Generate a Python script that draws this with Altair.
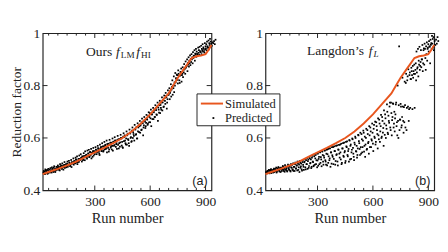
import altair as alt
import pandas as pd

# ---------------- data ----------------
sim_runs = [18, 50, 100, 150, 200, 250, 300, 350, 400, 450, 500, 550, 600, 650, 700,
            725, 750, 775, 800, 825, 850, 875, 900, 915, 932]
sim_vals = [0.462, 0.47, 0.482, 0.495, 0.51, 0.528, 0.545, 0.562, 0.58, 0.60, 0.625, 0.655,
            0.69, 0.73, 0.77, 0.80, 0.83, 0.855, 0.88, 0.905, 0.912, 0.915, 0.92, 0.935, 0.955]

# predicted values (ours), runs 22, 26, ..., 954 -> first set; runs 24, 28, ... -> second set
pred_ours_1 = [
    0.468, 0.472, 0.462, 0.475, 0.47, 0.478, 0.466, 0.474, 0.48, 0.471,
    0.477, 0.468, 0.482, 0.473, 0.486, 0.475, 0.47, 0.483, 0.478, 0.489,
    0.48, 0.491, 0.476, 0.487, 0.495, 0.482, 0.49, 0.479, 0.497, 0.486,
    0.494, 0.488, 0.502, 0.49, 0.498, 0.506, 0.492, 0.5, 0.489, 0.504,
    0.507, 0.498, 0.512, 0.503, 0.518, 0.506, 0.5, 0.514, 0.509, 0.52,
    0.516, 0.524, 0.51, 0.528, 0.519, 0.532, 0.515, 0.526, 0.536, 0.521,
    0.53, 0.541, 0.527, 0.546, 0.535, 0.522, 0.543, 0.55, 0.533, 0.548,
    0.545, 0.556, 0.538, 0.552, 0.561, 0.547, 0.535, 0.558, 0.566, 0.55,
    0.56, 0.548, 0.568, 0.557, 0.574, 0.562, 0.545, 0.571, 0.578, 0.556,
    0.575, 0.563, 0.582, 0.57, 0.552, 0.586, 0.573, 0.59, 0.566, 0.58,
    0.592, 0.574, 0.56, 0.596, 0.583, 0.6, 0.571, 0.565, 0.605, 0.588,
    0.61, 0.58, 0.598, 0.575, 0.616, 0.592, 0.57, 0.62, 0.6, 0.585,
    0.628, 0.6, 0.615, 0.59, 0.635, 0.612, 0.642, 0.598, 0.625, 0.648,
    0.645, 0.62, 0.655, 0.632, 0.662, 0.61, 0.648, 0.668, 0.638, 0.658,
    0.672, 0.65, 0.685, 0.66, 0.695, 0.675, 0.645, 0.69, 0.7, 0.672,
    0.705, 0.68, 0.712, 0.69, 0.72, 0.665, 0.708, 0.725, 0.695, 0.715,
    0.735, 0.705, 0.745, 0.72, 0.752, 0.73, 0.76, 0.712, 0.748, 0.765,
    0.77, 0.748, 0.78, 0.758, 0.795, 0.765, 0.79, 0.775, 0.8, 0.812,
    0.825, 0.84, 0.808, 0.845, 0.82, 0.838, 0.85, 0.815, 0.845, 0.832,
    0.85, 0.862, 0.845, 0.868, 0.875, 0.855, 0.88, 0.872, 0.885, 0.878,
    0.89, 0.9, 0.885, 0.905, 0.912, 0.895, 0.918, 0.91, 0.922, 0.915,
    0.925, 0.918, 0.932, 0.928, 0.92, 0.935, 0.93, 0.94, 0.926, 0.938,
    0.942, 0.935, 0.95, 0.945, 0.938, 0.955, 0.948, 0.96, 0.952, 0.965,
    0.962, 0.97, 0.958, 0.975,
]
pred_ours_2 = [
    0.474, 0.465, 0.48, 0.469, 0.476, 0.463, 0.482, 0.472, 0.468, 0.485,
    0.474, 0.488, 0.479, 0.47, 0.492, 0.481, 0.476, 0.49, 0.484, 0.495,
    0.486, 0.478, 0.5, 0.492, 0.484, 0.503, 0.494, 0.488, 0.508, 0.495,
    0.5, 0.493, 0.51, 0.497, 0.513, 0.504, 0.495, 0.516, 0.508, 0.502,
    0.522, 0.511, 0.504, 0.525, 0.516, 0.53, 0.508, 0.52, 0.533, 0.515,
    0.538, 0.523, 0.53, 0.515, 0.542, 0.528, 0.549, 0.534, 0.525, 0.552,
    0.54, 0.555, 0.53, 0.547, 0.558, 0.542, 0.528, 0.562, 0.55, 0.538,
    0.565, 0.553, 0.545, 0.57, 0.558, 0.54, 0.575, 0.562, 0.55, 0.58,
    0.568, 0.552, 0.585, 0.572, 0.558, 0.59, 0.577, 0.562, 0.548, 0.593,
    0.582, 0.568, 0.556, 0.598, 0.585, 0.57, 0.603, 0.59, 0.576, 0.558,
    0.608, 0.595, 0.58, 0.567, 0.612, 0.598, 0.585, 0.562, 0.618, 0.603,
    0.59, 0.575, 0.625, 0.61, 0.596, 0.58, 0.632, 0.617, 0.603, 0.588,
    0.64, 0.622, 0.608, 0.65, 0.632, 0.615, 0.598, 0.656, 0.64, 0.622,
    0.665, 0.648, 0.63, 0.674, 0.656, 0.64, 0.68, 0.662, 0.645, 0.688,
    0.67, 0.655, 0.698, 0.68, 0.66, 0.708, 0.69, 0.672, 0.715, 0.698,
    0.68, 0.725, 0.706, 0.688, 0.735, 0.716, 0.697, 0.742, 0.726, 0.708,
    0.755, 0.736, 0.718, 0.762, 0.742, 0.772, 0.755, 0.735, 0.782, 0.765,
    0.79, 0.772, 0.805, 0.785, 0.82, 0.8, 0.835, 0.812, 0.848, 0.828,
    0.842, 0.822, 0.858, 0.838, 0.81, 0.852, 0.865, 0.84, 0.87, 0.858,
    0.882, 0.866, 0.892, 0.875, 0.9, 0.886, 0.908, 0.895, 0.915, 0.902,
    0.92, 0.908, 0.928, 0.914, 0.935, 0.922, 0.94, 0.93, 0.918, 0.945,
    0.935, 0.948, 0.928, 0.952, 0.94, 0.958, 0.946, 0.932, 0.962, 0.95,
    0.958, 0.968, 0.945, 0.972, 0.962, 0.978, 0.968,
]
# predicted values (Langdon)
pred_lang_1 = [
    0.47, 0.465, 0.474, 0.468, 0.477, 0.47, 0.478, 0.466, 0.476, 0.472,
    0.479, 0.47, 0.482, 0.474, 0.468, 0.484, 0.476, 0.486, 0.472, 0.48,
    0.487, 0.474, 0.483, 0.49, 0.478, 0.471, 0.489, 0.482, 0.475, 0.492,
    0.485, 0.478, 0.495, 0.472, 0.488, 0.497, 0.48, 0.474, 0.49, 0.5,
    0.483, 0.495, 0.476, 0.502, 0.488, 0.47, 0.505, 0.492, 0.48, 0.508,
    0.497, 0.478, 0.51, 0.488, 0.515, 0.5, 0.482, 0.518, 0.493, 0.522,
    0.505, 0.485, 0.525, 0.51, 0.492, 0.53, 0.498, 0.535, 0.515, 0.488,
    0.54, 0.52, 0.5, 0.545, 0.527, 0.492, 0.548, 0.51, 0.532, 0.552,
    0.515, 0.498, 0.555, 0.538, 0.505, 0.56, 0.522, 0.49, 0.545, 0.565,
    0.528, 0.5, 0.568, 0.55, 0.512, 0.535, 0.572, 0.495, 0.555, 0.54,
    0.575, 0.518, 0.5, 0.56, 0.58, 0.528, 0.545, 0.505, 0.585, 0.565,
    0.535, 0.55, 0.51, 0.59, 0.57, 0.52, 0.555, 0.595, 0.54, 0.515,
    0.575, 0.6, 0.548, 0.525, 0.56, 0.61, 0.58, 0.535, 0.565, 0.615,
    0.545, 0.59, 0.62, 0.57, 0.528, 0.6, 0.555, 0.63, 0.58, 0.54,
    0.61, 0.64, 0.565, 0.59, 0.62, 0.55, 0.65, 0.6, 0.575, 0.66,
    0.63, 0.56, 0.61, 0.67, 0.585, 0.645, 0.6, 0.68, 0.62, 0.57,
    0.655, 0.69, 0.6, 0.635, 0.7, 0.615, 0.665, 0.72, 0.64, 0.735,
    0.61, 0.68, 0.73, 0.655, 0.625, 0.69, 0.735, 0.66, 0.8, 0.6,
    0.95, 0.67, 0.73, 0.64, 0.68, 0.72, 0.62, 0.66, 0.725, 0.81,
    0.63, 0.82, 0.72, 0.665, 0.84, 0.715, 0.825, 0.855, 0.71, 0.83,
    0.845, 0.715, 0.86, 0.82, 0.85, 0.87, 0.835, 0.88, 0.86, 0.89,
    0.87, 0.9, 0.855, 0.935, 0.88, 0.94, 0.86, 0.92, 0.895, 0.945,
    0.93, 0.95, 0.885, 0.955, 0.94, 0.96, 0.945, 0.935, 0.97, 0.955,
    0.975, 0.96, 0.985, 0.97,
]
pred_lang_2 = [
    0.466, 0.473, 0.469, 0.478, 0.465, 0.475, 0.481, 0.47, 0.477, 0.468,
    0.483, 0.473, 0.479, 0.487, 0.471, 0.481, 0.489, 0.476, 0.484, 0.47,
    0.486, 0.479, 0.493, 0.474, 0.484, 0.496, 0.478, 0.488, 0.472, 0.498,
    0.482, 0.49, 0.475, 0.5, 0.486, 0.478, 0.503, 0.49, 0.474, 0.506,
    0.484, 0.495, 0.51, 0.478, 0.498, 0.512, 0.486, 0.502, 0.475, 0.514,
    0.49, 0.507, 0.52, 0.48, 0.5, 0.524, 0.512, 0.486, 0.528, 0.503,
    0.518, 0.49, 0.532, 0.508, 0.495, 0.537, 0.522, 0.5, 0.541, 0.514,
    0.494, 0.528, 0.546, 0.505, 0.518, 0.55, 0.535, 0.498, 0.525, 0.553,
    0.51, 0.54, 0.495, 0.557, 0.53, 0.515, 0.56, 0.545, 0.502, 0.534,
    0.565, 0.52, 0.55, 0.498, 0.57, 0.538, 0.51, 0.556, 0.574, 0.525,
    0.545, 0.578, 0.505, 0.56, 0.532, 0.582, 0.55, 0.512, 0.568, 0.587,
    0.53, 0.558, 0.592, 0.518, 0.575, 0.545, 0.598, 0.562, 0.528, 0.582,
    0.605, 0.55, 0.57, 0.535, 0.612, 0.588, 0.558, 0.62, 0.54, 0.595,
    0.565, 0.628, 0.548, 0.605, 0.575, 0.635, 0.558, 0.615, 0.585, 0.645,
    0.565, 0.625, 0.595, 0.655, 0.578, 0.635, 0.605, 0.662, 0.585, 0.645,
    0.615, 0.675, 0.595, 0.655, 0.625, 0.688, 0.605, 0.665, 0.638, 0.705,
    0.612, 0.675, 0.648, 0.728, 0.62, 0.685, 0.658, 0.735, 0.63, 0.695,
    0.668, 0.732, 0.64, 0.7, 0.675, 0.728, 0.645, 0.61, 0.665, 0.725,
    0.63, 0.67, 0.72, 0.648, 0.83, 0.665, 0.718, 0.815, 0.64, 0.845,
    0.715, 0.835, 0.862, 0.71, 0.85, 0.825, 0.868, 0.84, 0.875, 0.855,
    0.88, 0.845, 0.885, 0.93, 0.865, 0.94, 0.895, 0.948, 0.875, 0.935,
    0.9, 0.955, 0.885, 0.942, 0.96, 0.905, 0.95, 0.965, 0.94, 0.958,
    0.97, 0.948, 0.975, 0.962, 0.99, 0.978, 0.985,
]
runs_1 = list(range(22, 22 + 4 * len(pred_ours_1), 4))
runs_2 = list(range(24, 24 + 4 * len(pred_ours_2), 4))

x_major = [300, 600, 900]
x_minor = [50, 100, 150, 200, 250, 350, 400, 450, 500, 550, 650, 700, 750, 800, 850]
y_major = [0.6, 0.8]
y_labels = [0.4, 0.6, 0.8, 1.0]

# ---------------- style ----------------
W, H = 175, 163
X_DOM = [18, 932]
SERIF = "Liberation Serif"
ORANGE = "#E8561E"

xs = alt.Scale(domain=X_DOM, nice=False, zero=False)
ys = alt.Scale(domain=[0.4, 1.0], nice=False, zero=False)


def panel(pred1, pred2, title_parts, tag, show_ytitle, legend=False):
    pts = pd.DataFrame({"run": runs_1 + runs_2, "val": pred1 + pred2})
    sim = pd.DataFrame({"run": sim_runs, "val": sim_vals})
    xmaj = pd.DataFrame({"run": x_major})
    xmin = pd.DataFrame({"run": x_minor})
    ymaj = pd.DataFrame({"val": y_major})
    dummy = pd.DataFrame({"a": [0]})

    xax = alt.Axis(
        values=x_major, ticks=False, domain=False, grid=False,
        labelFont=SERIF, labelFontSize=14, labelColor="#222", labelPadding=5,
        title="Run number", titleFont=SERIF, titleFontSize=15,
        titleFontWeight="normal", titleColor="#222", titlePadding=2)
    yax = alt.Axis(
        values=y_labels, format="~g", ticks=False, domain=False, grid=False,
        labelFont=SERIF, labelFontSize=14, labelColor="#222", labelPadding=3,
        titleFont=SERIF, titleFontSize=14, titleFontWeight="normal",
        titleColor="#222", titlePadding=0,
        title="Reduction factor" if show_ytitle else "")

    X = lambda: alt.X("run:Q", scale=xs, axis=xax)
    Y = lambda: alt.Y("val:Q", scale=ys, axis=yax)

    scatter = alt.Chart(pts).mark_square(size=3.2, color="black", opacity=1).encode(x=X(), y=Y())
    line = alt.Chart(sim).mark_line(color=ORANGE, strokeWidth=2).encode(x=X(), y=Y())

    tk = dict(color="#222", strokeWidth=1)
    ticks = [
        alt.Chart(xmaj).mark_rule(**tk).encode(x=X(), y=alt.value(H), y2=alt.value(H - 5)),
        alt.Chart(xmaj).mark_rule(**tk).encode(x=X(), y=alt.value(0), y2=alt.value(5)),
        alt.Chart(xmin).mark_rule(**tk).encode(x=X(), y=alt.value(H), y2=alt.value(H - 2.5)),
        alt.Chart(xmin).mark_rule(**tk).encode(x=X(), y=alt.value(0), y2=alt.value(2.5)),
        alt.Chart(ymaj).mark_rule(**tk).encode(y=Y(), x=alt.value(0), x2=alt.value(5)),
        alt.Chart(ymaj).mark_rule(**tk).encode(y=Y(), x=alt.value(W), x2=alt.value(W - 5)),
    ]

    texts = []
    for (txt, px, py, size, style) in title_parts:
        texts.append(alt.Chart(dummy).mark_text(
            text=txt, font=SERIF, fontSize=size, fontStyle=style, color="#222",
            align="left", baseline="alphabetic").encode(x=alt.value(px), y=alt.value(py)))
    texts.append(alt.Chart(dummy).mark_text(
        text=tag, font="Liberation Sans", fontSize=13, color="#222",
        align="right", baseline="alphabetic").encode(x=alt.value(W - 4), y=alt.value(H - 6)))

    layers = [scatter, line] + ticks + texts

    if legend:
        lx0, lx1, ly0, ly1 = -71, 15, 63, 96
        layers += [
            alt.Chart(dummy).mark_rect(fill="white", stroke="#222", strokeWidth=1).encode(
                x=alt.value(lx0), x2=alt.value(lx1), y=alt.value(ly0), y2=alt.value(ly1)),
            alt.Chart(dummy).mark_rule(color=ORANGE, strokeWidth=2).encode(
                x=alt.value(lx0 + 4), x2=alt.value(lx0 + 27), y=alt.value(ly0 + 10)),
            alt.Chart(dummy).mark_square(size=3.5, color="black", opacity=1).encode(
                x=alt.value(lx0 + 17), y=alt.value(ly0 + 25)),
            alt.Chart(dummy).mark_text(text="Simulated", font=SERIF, fontSize=13, color="#222",
                                       align="left", baseline="alphabetic").encode(
                x=alt.value(lx0 + 29), y=alt.value(ly0 + 15)),
            alt.Chart(dummy).mark_text(text="Predicted", font=SERIF, fontSize=13, color="#222",
                                       align="left", baseline="alphabetic").encode(
                x=alt.value(lx0 + 29), y=alt.value(ly0 + 29)),
        ]

    return alt.layer(*layers).properties(width=W, height=H)


title_a = [("Ours", 45, 24, 14, "normal"), ("f", 76, 24, 14, "italic"),
           ("LM", 81, 26, 9.5, "normal"), ("f", 97, 24, 14, "italic"),
           ("HI", 102, 26, 9.5, "normal")]
title_b = [("Langdon\u2019s", 43, 23, 14, "normal"), ("f", 107, 23, 14, "italic"),
           ("L", 112, 25, 9.5, "italic")]

left = panel(pred_ours_1, pred_ours_2, title_a, "(a)", True)
right = panel(pred_lang_1, pred_lang_2, title_b, "(b)", False, legend=True)

chart = alt.hconcat(left, right, spacing=56, bounds="flush").properties(
    padding={"left": 0, "top": 14, "right": 0, "bottom": 0},
    background="white",
).configure_view(stroke="#222", strokeWidth=1.2)

chart.save("out.html", embed_options={"renderer": "svg", "actions": False})
